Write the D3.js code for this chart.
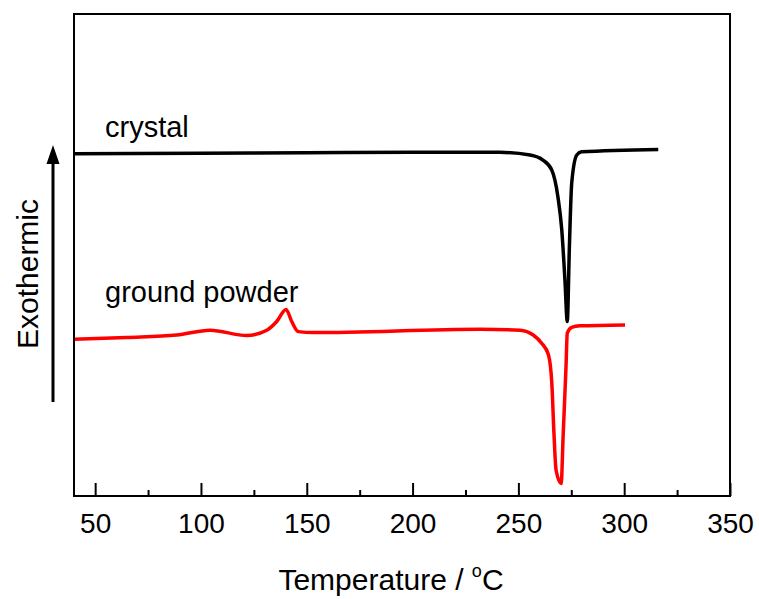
<!DOCTYPE html>
<html>
<head>
  <meta charset="utf-8">
  <title>DSC curves</title>
  <script src="https://cdn.jsdelivr.net/npm/d3@7"></script>
  <style>
    body { margin: 0; background: #fff; }
    text { font-family: Arial, "Liberation Sans", sans-serif; fill: #000; }
  </style>
</head>
<body>
  <div class="chart"></div>
  <script>
    // temperatures (°C) and heat flow (a.u.)
    var crystalT = [40, 100, 150, 200, 241.3, 255.5, 261.6, 265.8, 268.7, 270.5, 272.0, 273.1, 274.1, 275.2, 277.6, 279.9, 316.1];
    var crystalV = [71.0, 71.1, 71.2, 71.3, 71.3, 70.75, 69.7, 67.6, 62.0, 55.2, 44.8, 36.2, 51.7, 64.9, 70.75, 71.4, 71.9];

    var powderT = [40, 64.9, 88.5, 104.3, 121.6, 131.1, 135.8, 140.2, 142.9, 146.0, 153.0, 231.9, 250.8, 257.0, 261.0, 264.2, 265.8, 266.8, 267.8, 270.2, 271.2, 272.5, 273.1, 275.2, 279.1, 300.4];
    var powderV = [32.5, 32.9, 33.4, 34.4, 33.3, 34.4, 36.2, 38.7, 36.2, 34.1, 33.9, 34.6, 34.4, 33.4, 31.7, 29.3, 23.4, 13.1, 5.4, 2.6, 13.1, 26.8, 33.8, 35.0, 35.3, 35.5];

    var majorTicks = [50, 100, 150, 200, 250, 300, 350];
    var minorTicks = [75, 125, 175, 225, 275, 325];

    var series = [
      { name: "crystal", t: crystalT, v: crystalV, color: "#000000" },
      { name: "ground powder", t: powderT, v: powderV, color: "#ff0000" }
    ];

    var width = 759, height = 599;
    var margin = { top: 14, right: 29, bottom: 103, left: 74 };
    var w = width - margin.left - margin.right,
      h = height - margin.top - margin.bottom;

    var svg = d3.select(".chart")
      .append("svg")
      .attr("width", width)
      .attr("height", height);

    var g = svg.append("g")
      .attr("transform", "translate(" + margin.left + "," + margin.top + ")");

    var x = d3.scaleLinear().domain([40, 350]).range([0, w]);
    var y = d3.scaleLinear().domain([0, 100]).range([h, 0]);

    // ticks inside the frame, bottom only
    var xAxis = d3.axisBottom(x)
      .tickValues(majorTicks)
      .tickSize(-13)
      .tickPadding(17)
      .tickFormat(d3.format("d"));

    var ax = g.append("g")
      .attr("transform", "translate(0," + h + ")")
      .call(xAxis);
    ax.select(".domain").remove();
    ax.selectAll(".tick line").attr("stroke", "#000").attr("stroke-width", 2);
    ax.selectAll(".tick text")
      .style("font-size", "28px")
      .style("font-family", "Arial, 'Liberation Sans', sans-serif")
      .attr("fill", "#000");

    var minor = g.append("g")
      .attr("transform", "translate(0," + h + ")")
      .call(d3.axisBottom(x).tickValues(minorTicks).tickSize(-6).tickFormat(""));
    minor.select(".domain").remove();
    minor.selectAll(".tick line").attr("stroke", "#000").attr("stroke-width", 2);

    var line = d3.line()
      .x(function (d) { return x(d[0]); })
      .y(function (d) { return y(d[1]); })
      .curve(d3.curveMonotoneX);

    g.selectAll(".curve")
      .data(series)
      .enter().append("path")
      .attr("class", "curve")
      .attr("fill", "none")
      .attr("stroke", function (d) { return d.color; })
      .attr("stroke-width", 3.5)
      .attr("stroke-linejoin", "round")
      .attr("d", function (d) { return line(d3.zip(d.t, d.v)); });

    // frame
    g.append("rect")
      .attr("width", w)
      .attr("height", h)
      .attr("fill", "none")
      .attr("stroke", "#000")
      .attr("stroke-width", 2);

    // curve labels
    g.append("text")
      .attr("x", 105 - margin.left)
      .attr("y", 137 - margin.top)
      .style("font-size", "29px")
      .text("crystal");

    g.append("text")
      .attr("x", 105 - margin.left)
      .attr("y", 302 - margin.top)
      .style("font-size", "29px")
      .text("ground powder");

    // x title
    var xt = svg.append("text")
      .attr("x", 391)
      .attr("y", 590)
      .attr("text-anchor", "middle")
      .style("font-size", "30px");
    xt.append("tspan").text("Temperature / ");
    xt.append("tspan").attr("dy", -13).style("font-size", "18px").text("o");
    xt.append("tspan").attr("dy", 13).text("C");

    // y title with arrow
    svg.append("text")
      .attr("transform", "translate(38,274) rotate(-90)")
      .attr("text-anchor", "middle")
      .style("font-size", "30px")
      .text("Exothermic");

    svg.append("line")
      .attr("x1", 53).attr("x2", 53)
      .attr("y1", 402).attr("y2", 160)
      .attr("stroke", "#000")
      .attr("stroke-width", 3);

    svg.append("path")
      .attr("d", "M53,145 L59.5,164 L46.5,164 Z")
      .attr("fill", "#000");
  </script>
</body>
</html>
